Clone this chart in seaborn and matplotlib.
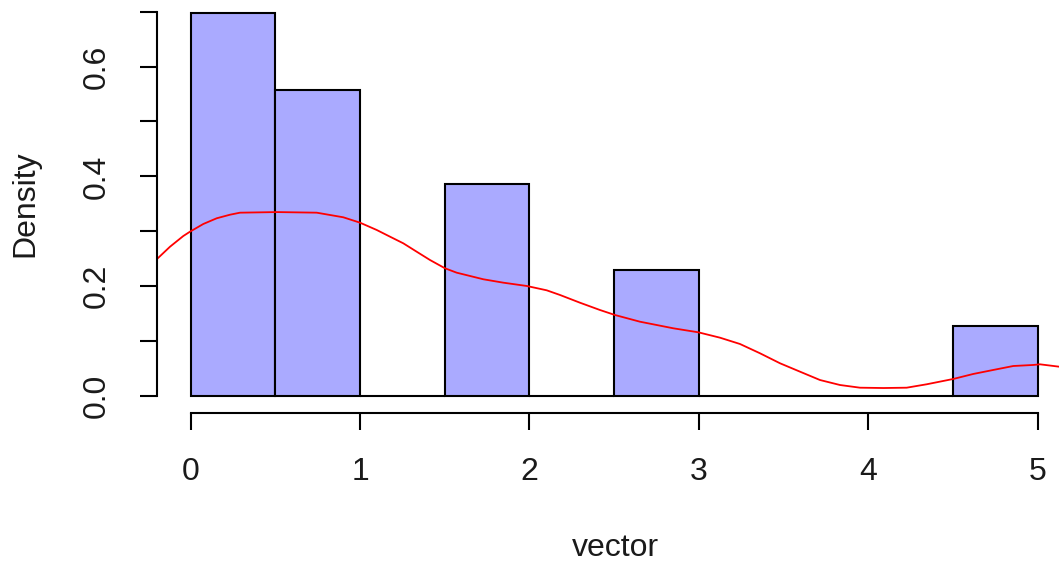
import numpy as np
import pandas as pd
import matplotlib
matplotlib.use("Agg")
import matplotlib.pyplot as plt
import seaborn as sns

# ---- data ----
bin_edges = [0.0, 0.5, 1.0, 1.5, 2.0, 2.5, 3.0, 3.5, 4.0, 4.5, 5.0]
bin_centers = [0.25, 0.75, 1.25, 1.75, 2.25, 2.75, 3.25, 3.75, 4.25, 4.75]
densities = [0.698, 0.557, 0.0, 0.386, 0.0, 0.229, 0.0, 0.0, 0.0, 0.127]

curve_x = [-0.2007, -0.1222, -0.0437, -0.0041, 0.0744, 0.1535, 0.2320, 0.2910,
           0.5100, 0.7438, 0.8223, 0.9008, 0.9994, 1.0980, 1.1765, 1.2550,
           1.3341, 1.4126, 1.5012, 1.5702, 1.6488, 1.7273, 1.8453, 1.9835,
           2.1015, 2.1800, 2.2981, 2.4162, 2.5047, 2.6523, 2.8489, 2.9965,
           3.1246, 3.2427, 3.3607, 3.4788, 3.5969, 3.7149, 3.8330, 3.9510,
           4.0900, 4.2267, 4.3447, 4.5018, 4.6198, 4.7379, 4.8560, 4.9740,
           5.0136, 5.1258]
curve_y = [0.2490, 0.2719, 0.2914, 0.2993, 0.3133, 0.3237, 0.3302, 0.3339,
           0.3350, 0.3339, 0.3297, 0.3255, 0.3157, 0.3024, 0.2902, 0.2781,
           0.2628, 0.2477, 0.2326, 0.2246, 0.2186, 0.2126, 0.2064, 0.2004,
           0.1925, 0.1840, 0.1699, 0.1566, 0.1475, 0.1353, 0.1233, 0.1160,
           0.1062, 0.0947, 0.0778, 0.0596, 0.0443, 0.0291, 0.0200, 0.0151,
           0.0145, 0.0151, 0.0213, 0.0310, 0.0401, 0.0474, 0.0546, 0.0565,
           0.0577, 0.0534]

x_ticks = [0, 1, 2, 3, 4, 5]
y_ticks = [0.0, 0.1, 0.2, 0.3, 0.4, 0.5, 0.6, 0.7]
y_tick_labels = ["0.0", "", "0.2", "", "0.4", "", "0.6", ""]
x_label = "vector"
y_label = "Density"

# ---- styling ----
sns.set_style("white")
plt.rcParams["font.family"] = ["Liberation Sans", "DejaVu Sans"]

W, H = 1059, 562
fig = plt.figure(figsize=(W / 100, H / 100), dpi=100)
ax = fig.add_axes([157 / W, 1 - 413 / H, 902 / W, 413 / H])

hist_df = pd.DataFrame({"x": bin_centers, "w": densities})
sns.histplot(data=hist_df, x="x", weights="w", bins=bin_edges, stat="count",
             color="#AAAAFF", alpha=1.0, edgecolor="black", linewidth=1.5, ax=ax)

curve_df = pd.DataFrame({"x": curve_x, "y": curve_y})
sns.lineplot(data=curve_df, x="x", y="y", color="red", linewidth=1.3,
             sort=False, estimator=None, ax=ax)

ax.set_xlim(-0.199, 5.126)
ax.set_ylim(-0.031, 0.7213)

for s in ["top", "right"]:
    ax.spines[s].set_visible(False)
for s in ["left", "bottom"]:
    ax.spines[s].set_color("black")
    ax.spines[s].set_linewidth(1.5)
ax.spines["bottom"].set_bounds(0, 5)
ax.spines["left"].set_bounds(0, 0.7)

ax.set_xticks(x_ticks)
ax.set_xticklabels([str(t) for t in x_ticks])
ax.set_yticks(y_ticks)
ax.set_yticklabels(y_tick_labels)
ax.tick_params(axis="both", which="major", length=12.5, width=1.5,
               color="black", labelsize=23, labelcolor="#1a1a1a", direction="out",
               left=True, bottom=True)
ax.tick_params(axis="x", pad=19)
ax.tick_params(axis="y", pad=20)
for lab in ax.get_yticklabels():
    lab.set_rotation(90)
    lab.set_va("center")
    lab.set_ha("right")

ax.set_xlabel(x_label, fontsize=23, color="#1a1a1a")
ax.set_ylabel(y_label, fontsize=23, color="#1a1a1a")
ax.xaxis.set_label_coords((615 - 157) / 902, (413 - 548) / 413)
ax.xaxis.label.set_va("center")
ax.yaxis.set_label_coords((25 - 157) / 902, (413 - 204) / 413)
ax.yaxis.label.set_va("center")

ax.grid(False)
fig.savefig("out.png", dpi=100, facecolor="white")
